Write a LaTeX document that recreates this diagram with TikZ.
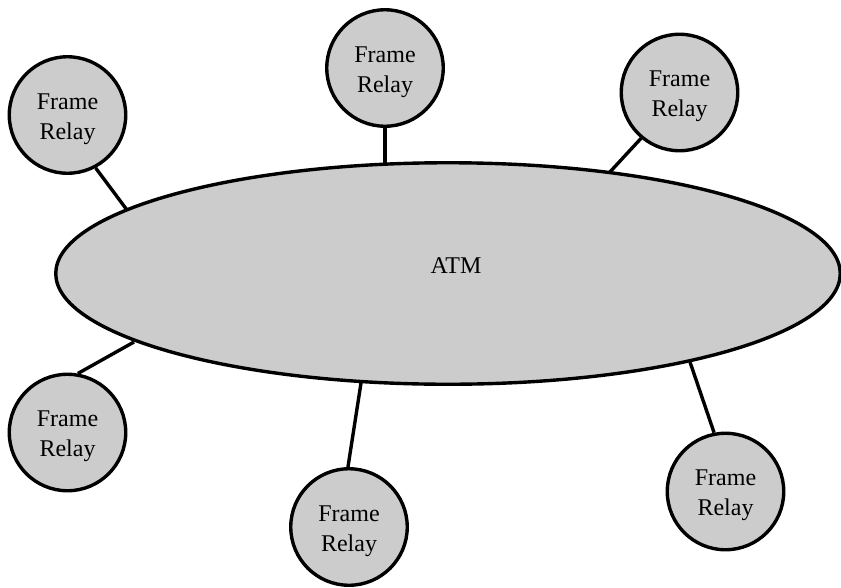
\documentclass[tikz,border=0pt]{standalone}
\usepackage{fontspec}
\setmainfont{Liberation Serif}
\usetikzlibrary{shapes.geometric}
\definecolor{netgray}{HTML}{CCCCCC}
% two-line label, lowered a little inside its circle
\newcommand{\frtext}{\raisebox{-3pt}[\height][\depth]{\begin{tabular}{@{}c@{}}Frame\\Relay\end{tabular}}}
\tikzset{
  net/.style={draw=black, line width=3.4pt, fill=netgray},
  relay/.style={net, circle, minimum size=116.5pt, inner sep=0pt,
    font=\fontsize{24}{30}\selectfont},
  link/.style={line width=3.4pt},
}
\begin{document}
\begin{tikzpicture}[x=1pt, y=-1pt]
  \useasboundingbox (0,0) rectangle (841,587);
  % backbone
  \node[net, ellipse, minimum width=784.5pt, minimum height=221.5pt, inner sep=0pt] (atm) at (448,273.5) {};
  \node[font=\fontsize{24}{30}\selectfont] (atmlabel) at (456,266) {ATM};
  % attached frame relay networks
  \node[relay] (fr1) at (67.5,115)    {\frtext};
  \node[relay] (fr2) at (385,68)      {\frtext};
  \node[relay] (fr3) at (679.5,92.5)  {\frtext};
  \node[relay] (fr4) at (67.5,432.5)  {\frtext};
  \node[relay] (fr5) at (349,527)     {\frtext};
  \node[relay] (fr6) at (725.5,491.5) {\frtext};
  % attachment points on the backbone
  \coordinate (p1) at (127,210);
  \coordinate (p2) at (385,163);
  \coordinate (p3) at (609,173);
  \coordinate (p4) at (134,342);
  \coordinate (p5) at (361,383);
  \coordinate (p6) at (690,362);
  \draw[link] (fr1.-62)  -- (p1);
  \draw[link] (fr2.-90)  -- (p2);
  \draw[link] (fr3.-130) -- (p3);
  \draw[link] (fr4.80)   -- (p4);
  \draw[link] (fr5.91)   -- (p5);
  \draw[link] (fr6.101)  -- (p6);
\end{tikzpicture}
\end{document}
